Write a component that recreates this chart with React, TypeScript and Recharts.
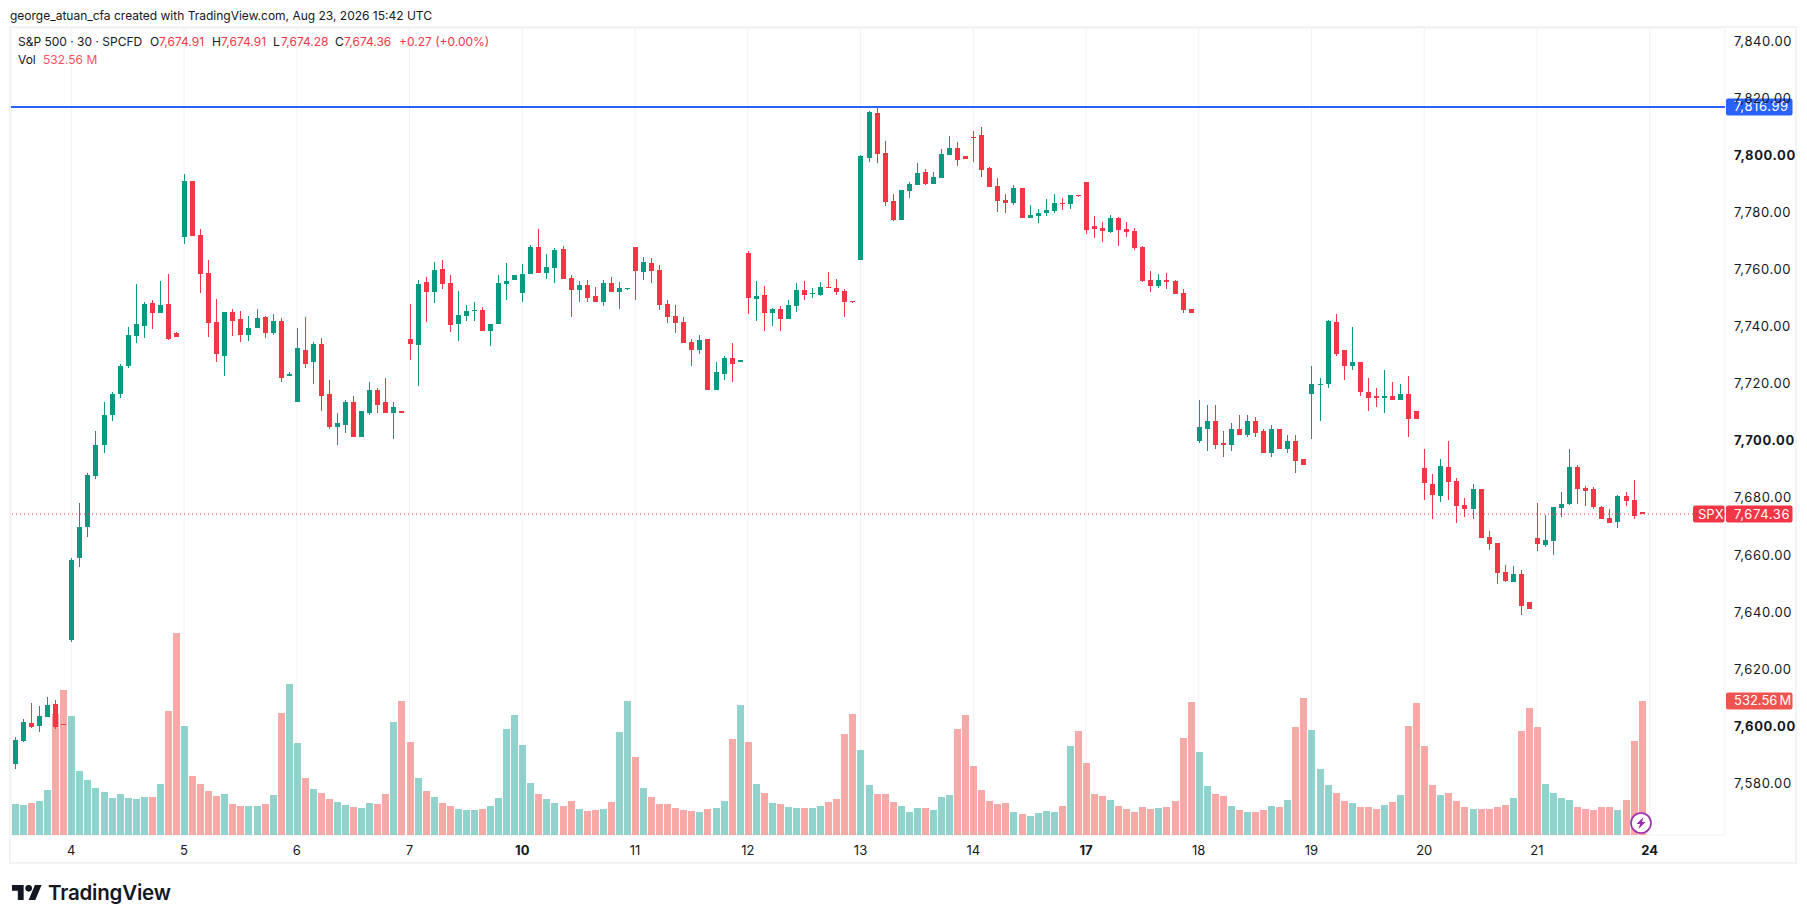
import {
  Bar,
  CartesianGrid,
  ComposedChart,
  ReferenceLine,
  XAxis,
  YAxis,
} from "recharts";

const FONT = "Inter, 'Noto Sans', sans-serif";
const UP = "#089981";
const DOWN = "#F23645";
const VOL_UP = "rgba(38,166,154,0.5)";
const VOL_DOWN = "rgba(239,83,80,0.5)";
const TEXT = "#131722";

const PIVOT = 7816.99;
const LAST = 7674.36;
const LAST_VOL = 532.56;

const dayTicks = [0, 14, 28, 42, 56, 70, 84, 98, 112, 126, 140, 154, 168, 182, 196];
const dayLabels = ["4", "5", "6", "7", "10", "11", "12", "13", "14", "17", "18", "19", "20", "21", "24"];
const boldDays = ["10", "17", "24"];

const priceTicks = [7580, 7600, 7620, 7640, 7660, 7680, 7700, 7720, 7740, 7760, 7780, 7800, 7820, 7840];
const boldPrices = [7600, 7700, 7800];

// bar index of the first row, index 0 is the first 30m bar of the 4th
const FIRST_BAR = -8;
const X_DOMAIN = [-7.49, 205.35];

// open, high, low, close
const ohlc: (number[] | null)[] = [
  null,
  [7586.8, 7596.3, 7585.0, 7595.2],
  [7594.9, 7602.6, 7594.5, 7601.5],
  [7601.2, 7608.2, 7599.4, 7599.8],
  [7600.1, 7607.1, 7598.0, 7603.6],
  [7603.3, 7610.3, 7603.3, 7607.5],
  [7607.8, 7609.2, 7599.1, 7599.8],
  [7600.7, 7600.8, 7600.5, 7600.6],
  // 4
  [7630.3, 7659.1, 7629.4, 7658.4],
  [7659.1, 7678.4, 7655.9, 7669.9],
  [7669.9, 7688.9, 7666.4, 7688.2],
  [7687.8, 7703.3, 7686.8, 7698.7],
  [7698.4, 7713.5, 7695.6, 7709.2],
  [7708.9, 7717.3, 7706.8, 7716.3],
  [7716.3, 7727.1, 7714.9, 7726.4],
  [7726.1, 7739.8, 7725.7, 7737.0],
  [7736.6, 7754.9, 7734.2, 7740.8],
  [7740.1, 7748.5, 7735.9, 7747.8],
  [7748.2, 7749.2, 7739.1, 7744.7],
  [7744.7, 7755.9, 7744.7, 7747.5],
  [7747.8, 7758.4, 7735.2, 7735.6],
  [7737.7, 7738.0, 7736.3, 7736.3],
  // 5
  [7771.3, 7793.5, 7768.9, 7791.0],
  [7791.0, 7791.0, 7771.7, 7771.7],
  [7772.0, 7774.2, 7751.7, 7758.4],
  [7758.7, 7763.3, 7736.3, 7741.2],
  [7741.5, 7749.6, 7727.5, 7730.3],
  [7729.9, 7745.0, 7722.6, 7745.0],
  [7745.0, 7746.1, 7736.6, 7741.9],
  [7742.6, 7745.4, 7734.5, 7737.0],
  [7737.0, 7743.6, 7734.9, 7739.4],
  [7739.4, 7746.1, 7739.4, 7742.9],
  [7743.3, 7743.6, 7735.9, 7737.7],
  [7737.7, 7744.3, 7737.0, 7741.9],
  [7741.9, 7742.9, 7720.5, 7721.9],
  [7722.9, 7724.0, 7722.9, 7723.6],
  // 6
  [7713.8, 7739.4, 7713.8, 7732.4],
  [7732.0, 7743.3, 7725.4, 7727.1],
  [7727.8, 7734.5, 7719.8, 7733.8],
  [7733.8, 7735.9, 7710.3, 7715.6],
  [7716.3, 7721.5, 7704.0, 7704.7],
  [7704.7, 7709.6, 7698.4, 7706.1],
  [7705.7, 7714.2, 7702.9, 7713.5],
  [7713.8, 7715.9, 7701.5, 7701.5],
  [7701.5, 7710.3, 7701.2, 7710.3],
  [7709.9, 7720.8, 7708.9, 7718.0],
  [7718.0, 7718.4, 7709.6, 7712.7],
  [7713.5, 7721.9, 7709.6, 7709.6],
  [7709.9, 7713.5, 7700.8, 7711.7],
  [7710.3, 7710.4, 7709.8, 7709.9],
  // 7
  [7735.6, 7747.8, 7728.5, 7733.8],
  [7733.5, 7756.3, 7719.4, 7754.9],
  [7755.6, 7757.3, 7741.5, 7752.0],
  [7752.0, 7762.6, 7748.2, 7760.0],
  [7760.1, 7763.3, 7753.1, 7754.9],
  [7755.2, 7758.0, 7738.0, 7740.5],
  [7740.8, 7752.4, 7734.9, 7744.0],
  [7743.6, 7747.7, 7741.9, 7745.4],
  [7745.4, 7748.5, 7741.9, 7745.7],
  [7745.7, 7746.8, 7738.4, 7738.4],
  [7738.4, 7740.8, 7733.1, 7740.8],
  [7740.8, 7758.0, 7740.8, 7755.2],
  [7754.9, 7762.2, 7749.2, 7755.9],
  [7756.3, 7758.0, 7756.3, 7758.0],
  // 10
  [7751.7, 7761.9, 7748.5, 7758.4],
  [7758.4, 7768.5, 7758.4, 7767.8],
  [7767.8, 7774.2, 7758.7, 7758.7],
  [7758.7, 7765.4, 7756.6, 7760.8],
  [7760.5, 7767.5, 7755.2, 7766.8],
  [7767.1, 7768.2, 7756.6, 7756.6],
  [7757.0, 7758.0, 7743.3, 7752.7],
  [7752.7, 7755.9, 7748.5, 7754.5],
  [7754.5, 7756.3, 7748.5, 7749.9],
  [7750.6, 7753.8, 7748.5, 7748.5],
  [7748.5, 7756.3, 7747.1, 7755.2],
  [7755.2, 7757.3, 7752.0, 7752.0],
  [7752.0, 7755.6, 7746.1, 7753.5],
  [7753.1, 7753.6, 7753.0, 7753.5],
  // 11
  [7767.8, 7767.8, 7749.2, 7759.4],
  [7759.1, 7764.3, 7756.3, 7762.6],
  [7762.2, 7764.0, 7755.2, 7759.4],
  [7759.8, 7761.5, 7745.7, 7747.5],
  [7747.8, 7749.2, 7741.2, 7743.3],
  [7743.6, 7747.5, 7737.7, 7741.2],
  [7741.5, 7743.3, 7734.2, 7734.2],
  [7734.5, 7735.6, 7726.1, 7732.0],
  [7731.7, 7737.0, 7730.6, 7735.2],
  [7735.6, 7735.6, 7717.7, 7717.7],
  [7717.7, 7727.5, 7717.7, 7724.0],
  [7723.6, 7729.9, 7721.5, 7729.2],
  [7729.2, 7734.2, 7720.8, 7727.1],
  [7727.8, 7728.5, 7727.8, 7728.5],
  // 12
  [7765.7, 7766.4, 7744.4, 7749.9],
  [7749.6, 7755.9, 7741.9, 7750.6],
  [7751.0, 7754.2, 7738.4, 7744.7],
  [7744.7, 7746.4, 7740.1, 7746.1],
  [7746.1, 7747.1, 7738.4, 7742.6],
  [7742.6, 7749.2, 7742.6, 7747.5],
  [7747.1, 7755.2, 7745.0, 7752.7],
  [7752.7, 7755.9, 7749.2, 7751.0],
  [7751.3, 7753.5, 7749.9, 7751.7],
  [7751.0, 7755.6, 7750.6, 7753.8],
  [7753.8, 7759.1, 7753.5, 7753.5],
  [7753.5, 7756.6, 7751.0, 7752.0],
  [7752.4, 7753.1, 7743.3, 7748.5],
  [7748.9, 7749.0, 7748.4, 7748.5],
  // 13
  [7763.3, 7800.1, 7763.3, 7799.8],
  [7799.1, 7815.6, 7797.7, 7815.2],
  [7814.9, 7817.0, 7797.3, 7800.5],
  [7800.8, 7805.0, 7782.2, 7783.6],
  [7784.0, 7786.4, 7777.0, 7777.3],
  [7777.3, 7787.8, 7777.3, 7787.8],
  [7787.5, 7790.6, 7785.0, 7789.9],
  [7789.6, 7797.3, 7789.6, 7793.8],
  [7794.2, 7795.2, 7789.6, 7789.9],
  [7789.9, 7794.2, 7789.9, 7792.4],
  [7792.0, 7802.2, 7792.0, 7800.5],
  [7800.1, 7806.8, 7800.1, 7802.6],
  [7802.6, 7804.7, 7796.3, 7798.4],
  [7799.8, 7799.8, 7798.7, 7798.7],
  // 14
  [7806.4, 7808.5, 7797.7, 7806.1],
  [7807.1, 7809.9, 7792.4, 7794.9],
  [7795.6, 7795.9, 7788.9, 7788.9],
  [7789.2, 7792.0, 7780.1, 7784.0],
  [7784.3, 7786.4, 7779.8, 7783.3],
  [7783.3, 7789.6, 7782.6, 7788.5],
  [7788.5, 7788.5, 7778.0, 7778.0],
  [7778.0, 7782.6, 7778.0, 7779.1],
  [7778.7, 7781.2, 7776.3, 7779.8],
  [7779.8, 7784.7, 7778.7, 7780.8],
  [7780.5, 7786.4, 7779.8, 7783.3],
  [7783.3, 7785.0, 7780.8, 7782.9],
  [7782.9, 7786.1, 7781.2, 7786.1],
  [7786.1, 7786.1, 7785.4, 7785.7],
  // 17
  [7790.6, 7790.6, 7772.4, 7773.8],
  [7775.2, 7778.7, 7771.0, 7774.2],
  [7774.5, 7776.6, 7769.6, 7773.5],
  [7773.1, 7779.1, 7772.7, 7778.0],
  [7778.0, 7778.4, 7768.2, 7773.8],
  [7774.2, 7776.6, 7771.3, 7773.1],
  [7773.5, 7774.5, 7766.8, 7767.5],
  [7767.8, 7768.2, 7755.6, 7755.9],
  [7756.3, 7759.4, 7752.0, 7754.2],
  [7754.2, 7758.4, 7753.5, 7756.3],
  [7756.3, 7758.7, 7753.1, 7755.6],
  [7755.9, 7756.3, 7751.3, 7751.3],
  [7751.7, 7753.1, 7744.7, 7745.7],
  [7746.1, 7746.1, 7744.7, 7744.7],
  // 18
  [7699.8, 7714.2, 7699.1, 7705.0],
  [7704.0, 7712.7, 7696.3, 7707.1],
  [7706.8, 7712.4, 7697.0, 7698.7],
  [7699.4, 7703.6, 7694.2, 7698.7],
  [7698.7, 7706.4, 7696.3, 7704.0],
  [7704.0, 7708.9, 7701.9, 7702.2],
  [7702.2, 7709.2, 7701.5, 7706.8],
  [7706.8, 7708.2, 7701.2, 7702.9],
  [7703.3, 7704.0, 7695.9, 7695.9],
  [7695.9, 7705.7, 7694.5, 7704.0],
  [7704.0, 7704.3, 7697.0, 7697.0],
  [7697.0, 7701.9, 7695.9, 7700.1],
  [7700.1, 7701.9, 7688.9, 7693.1],
  [7693.5, 7693.5, 7691.7, 7691.7],
  // 19
  [7716.6, 7726.4, 7700.5, 7720.1],
  [7719.8, 7721.9, 7706.8, 7720.1],
  [7719.8, 7742.2, 7718.4, 7741.9],
  [7741.5, 7744.3, 7729.6, 7730.3],
  [7731.7, 7731.7, 7721.2, 7726.1],
  [7726.1, 7739.8, 7724.7, 7727.8],
  [7727.5, 7727.5, 7715.6, 7717.0],
  [7717.3, 7721.9, 7710.6, 7715.2],
  [7715.6, 7718.7, 7712.0, 7715.2],
  [7715.2, 7724.7, 7709.9, 7715.6],
  [7715.6, 7720.5, 7714.5, 7714.5],
  [7714.5, 7720.1, 7714.2, 7716.3],
  [7716.3, 7722.9, 7701.5, 7707.8],
  [7710.3, 7710.3, 7707.8, 7707.8],
  // 20
  [7690.6, 7697.3, 7679.4, 7685.4],
  [7685.0, 7688.5, 7672.7, 7681.2],
  [7680.8, 7693.8, 7678.7, 7691.3],
  [7691.0, 7700.0, 7679.4, 7685.7],
  [7686.1, 7687.1, 7671.3, 7677.3],
  [7677.7, 7679.9, 7673.5, 7676.3],
  [7676.3, 7685.0, 7672.7, 7683.3],
  [7683.3, 7683.3, 7666.1, 7666.1],
  [7666.4, 7668.5, 7661.9, 7664.0],
  [7664.3, 7664.3, 7649.9, 7653.8],
  [7654.2, 7656.6, 7650.6, 7651.0],
  [7650.6, 7656.3, 7650.6, 7653.5],
  [7653.5, 7654.9, 7639.1, 7642.2],
  [7643.6, 7643.6, 7641.2, 7641.2],
  // 21
  [7666.1, 7678.4, 7661.5, 7664.0],
  [7663.6, 7674.2, 7662.9, 7665.4],
  [7665.0, 7677.0, 7660.1, 7677.0],
  [7676.6, 7682.2, 7673.5, 7678.0],
  [7678.0, 7697.3, 7677.7, 7691.0],
  [7691.0, 7691.7, 7678.0, 7683.3],
  [7683.6, 7684.3, 7677.3, 7682.6],
  [7683.0, 7684.0, 7676.0, 7677.0],
  [7677.0, 7677.3, 7672.7, 7672.7],
  [7673.1, 7676.3, 7671.3, 7671.3],
  [7671.7, 7681.0, 7669.6, 7680.7],
  [7680.7, 7682.2, 7677.3, 7679.1],
  [7679.4, 7686.4, 7672.7, 7673.8],
  [7674.91, 7674.91, 7674.28, 7674.36],
];

// millions
const volumes = [
  123.2, 123.2, 119.2, 127.2, 135.1, 178.8, 480.9, 576.3,
  473, 254.4, 218.6, 186.8, 170.9, 147.1, 163, 147.1, 143.1, 151, 151, 202.7, 492.8, 802.8,
  433.2, 234.5, 202.7, 174.9, 155, 163, 123.2, 115.3, 115.3, 115.3, 123.2, 159, 484.9, 600.1,
  365.6, 226.5, 182.8, 166.9, 143.1, 131.2, 119.2, 111.3, 107.3, 127.2, 123.2, 163, 449.1, 532.6,
  369.6, 226.5, 174.9, 151, 127.2, 115.3, 103.3, 99.4, 99.4, 103.3, 115.3, 147.1, 421.3, 476.9,
  357.7, 206.7, 163, 143.1, 127.2, 115.3, 135.1, 103.3, 95.4, 99.4, 103.3, 131.2, 409.4, 532.6,
  310, 186.8, 151, 123.2, 123.2, 107.3, 99.4, 95.4, 91.4, 103.3, 107.3, 135.1, 381.5, 516.7,
  369.6, 202.7, 166.9, 127.2, 123.2, 111.3, 107.3, 107.3, 107.3, 115.3, 131.2, 143.1, 401.4, 480.9,
  337.8, 198.7, 163, 163, 131.2, 115.3, 91.4, 107.3, 107.3, 99.4, 151, 159, 421.3, 476.9,
  274.2, 178.8, 135.1, 123.2, 127.2, 91.4, 83.5, 75.5, 87.4, 95.4, 91.4, 115.3, 353.7, 413.3,
  286.2, 163, 155, 139.1, 115.3, 103.3, 91.4, 111.3, 103.3, 107.3, 111.3, 135.1, 385.5, 528.6,
  329.9, 194.7, 163, 155, 115.3, 99.4, 91.4, 91.4, 99.4, 115.3, 111.3, 139.1, 429.2, 544.5,
  417.3, 262.3, 198.7, 166.9, 135.1, 127.2, 111.3, 111.3, 103.3, 119.2, 131.2, 159, 433.2, 524.6,
  353.7, 198.7, 159, 166.9, 135.1, 111.3, 103.3, 103.3, 103.3, 111.3, 119.2, 147.1, 413.3, 504.7,
  429.2, 202.7, 166.9, 147.1, 139.1, 111.3, 103.3, 99.4, 111.3, 111.3, 99.4, 139.1, 373.6, 532.56,
];

const rows = volumes.map((volume, n) => {
  const bar = ohlc[n];
  return {
    index: FIRST_BAR + n,
    volume,
    open: bar ? bar[0] : null,
    high: bar ? bar[1] : null,
    low: bar ? bar[2] : null,
    close: bar ? bar[3] : null,
    up: bar ? bar[3] >= bar[0] : true,
  };
});

function candleRange(d: (typeof rows)[number]) {
  return d.high == null ? null : [d.low, d.high];
}

function Candle(props: any) {
  const { x, y, width, height, payload } = props;
  if (payload.high == null) return null;
  const cx = x + width / 2;
  const perUnit = height / (payload.high - payload.low);
  const py = (v: number) => y + (payload.high - v) * perUnit;
  const top = Math.round(py(Math.max(payload.open, payload.close)));
  const bottom = Math.round(py(Math.min(payload.open, payload.close)));
  const color = payload.up ? UP : DOWN;
  return (
    <g shapeRendering="crispEdges">
      <rect x={Math.round(cx - 0.5)} y={y} width={1} height={height} fill={color} />
      <rect
        x={Math.round(cx - 2.5)}
        y={top}
        width={5}
        height={Math.max(bottom - top, 1)}
        fill={color}
      />
    </g>
  );
}

function VolumeBar(props: any) {
  const { x, y, width, height, payload } = props;
  return (
    <rect
      x={Math.round(x + width / 2 - 3.5)}
      y={y}
      width={7}
      height={height}
      fill={payload.up ? VOL_UP : VOL_DOWN}
      shapeRendering="crispEdges"
    />
  );
}

function PriceTick(props: any) {
  const { x, y, payload } = props;
  const bold = boldPrices.includes(payload.value);
  return (
    <text
      x={x + 1}
      y={y + 4.5}
      fontFamily={FONT}
      fontSize={13}
      letterSpacing={0.6}
      fontWeight={bold ? 700 : 400}
      fill={TEXT}
    >
      {payload.value.toLocaleString("en-US", { minimumFractionDigits: 2 })}
    </text>
  );
}

function DayTick(props: any) {
  const { x, y, payload } = props;
  const label = dayLabels[dayTicks.indexOf(payload.value)];
  return (
    <text
      x={x}
      y={y + 12}
      textAnchor="middle"
      fontFamily={FONT}
      fontSize={13}
      fontWeight={boldDays.includes(label) ? 700 : 400}
      fill={TEXT}
    >
      {label}
    </text>
  );
}

// the coloured value boxes on the price scale
function ValueTag({ viewBox, text, color, symbol, spacing = 0.6 }: any) {
  const right = viewBox.x + viewBox.width;
  const cy = viewBox.y;
  return (
    <g fontFamily={FONT} fontSize={13} fill="#fff">
      {symbol && (
        <>
          <rect x={right - 32} y={cy - 8.5} width={31.5} height={17} rx={2} fill={color} />
          <text x={right - 27} y={cy + 4.5}>
            {symbol}
          </text>
        </>
      )}
      <rect x={right + 1} y={cy - 8.5} width={66.5} height={17} rx={2} fill={color} />
      <text x={right + 9} y={cy + 4.5} letterSpacing={spacing} wordSpacing={-1.5}>
        {text}
      </text>
    </g>
  );
}

function Abs({ left, top, color, children, weight }: any) {
  return (
    <span
      style={{
        position: "absolute",
        left,
        top,
        color: color ?? TEXT,
        fontWeight: weight,
        whiteSpace: "nowrap",
        lineHeight: "16px",
      }}
    >
      {children}
    </span>
  );
}

export default function App() {
  return (
    <div
      style={{
        position: "fixed",
        left: 0,
        top: 0,
        width: 1807,
        height: 923,
        background: "#fff",
        fontFamily: FONT,
        fontSize: 12,
        overflow: "hidden",
      }}
    >
      <div
        style={{
          position: "absolute",
          left: 9,
          top: 26,
          width: 1784,
          height: 834,
          border: "2px solid #f3f3f4",
        }}
      />
      <ComposedChart
        width={1807}
        height={923}
        data={rows}
        margin={{ top: 28, right: 10, left: 11, bottom: 61 }}
        style={{ position: "absolute", left: 0, top: 0 }}
      >
        <CartesianGrid stroke="#f2f2f3" strokeWidth={1} />
        <XAxis
          dataKey="index"
          type="number"
          domain={X_DOMAIN}
          allowDataOverflow
          ticks={dayTicks}
          interval={0}
          height={27}
          axisLine={false}
          tickLine={false}
          tick={<DayTick />}
        />
        {/* own axis for the candles so they don't sit side by side with volume */}
        <XAxis
          xAxisId="candles"
          dataKey="index"
          type="number"
          domain={X_DOMAIN}
          allowDataOverflow
          hide
        />
        <YAxis
          yAxisId="price"
          orientation="right"
          domain={[7561.91, 7844.67]}
          allowDataOverflow
          ticks={priceTicks}
          interval={0}
          width={72}
          axisLine={false}
          tickLine={false}
          tick={<PriceTick />}
        />
        <YAxis yAxisId="volume" hide domain={[0, 3207]} allowDataOverflow />
        <Bar
          yAxisId="volume"
          dataKey="volume"
          barSize={7}
          shape={<VolumeBar />}
          isAnimationActive={false}
        />
        <ReferenceLine
          yAxisId="volume"
          y={LAST_VOL}
          stroke="none"
          label={(p: any) => (
            <ValueTag viewBox={p.viewBox} text="532.56 M" color="#EF5350" spacing={0} />
          )}
        />
        <ReferenceLine
          yAxisId="price"
          y={LAST}
          stroke={DOWN}
          strokeDasharray="1 3"
          label={(p: any) => (
            <ValueTag viewBox={p.viewBox} text="7,674.36" color={DOWN} symbol="SPX" />
          )}
        />
        <Bar
          xAxisId="candles"
          yAxisId="price"
          dataKey={candleRange}
          barSize={7}
          shape={<Candle />}
          isAnimationActive={false}
        />
        <ReferenceLine
          yAxisId="price"
          y={PIVOT}
          stroke="#2962FF"
          strokeWidth={2}
          label={(p: any) => (
            <ValueTag viewBox={p.viewBox} text="7,816.99" color="#2962FF" />
          )}
        />
      </ComposedChart>

      <svg
        width={24}
        height={24}
        viewBox="0 0 24 24"
        style={{ position: "absolute", left: 1629, top: 811 }}
      >
        <circle cx={12} cy={12} r={10} fill="#fff" stroke="#9C27B0" strokeWidth={1.6} />
        <path d="M14.5 6 7.5 13h3.6L9.5 18l7-7h-3.6z" fill="#9C27B0" />
      </svg>

      <Abs left={10} top={8}>
        george_atuan_cfa created with TradingView.com, Aug 23, 2026 15:42 UTC
      </Abs>
      <Abs left={18} top={34}>S&amp;P 500 · 30 · SPCFD</Abs>
      <Abs left={150} top={34}>O</Abs>
      <Abs left={159} top={34} color={DOWN}>7,674.91</Abs>
      <Abs left={212} top={34}>H</Abs>
      <Abs left={221} top={34} color={DOWN}>7,674.91</Abs>
      <Abs left={273} top={34}>L</Abs>
      <Abs left={281} top={34} color={DOWN}>7,674.28</Abs>
      <Abs left={335} top={34}>C</Abs>
      <Abs left={344} top={34} color={DOWN}>7,674.36</Abs>
      <Abs left={399} top={34} color={DOWN}>+0.27 (+0.00%)</Abs>
      <Abs left={18} top={52}>Vol</Abs>
      <Abs left={43} top={52} color="#F7525F">532.56 M</Abs>

      <svg
        width={30}
        height={15}
        viewBox="0 4 36 18"
        style={{ position: "absolute", left: 12, top: 885 }}
      >
        <path d="M14 22H7V11H0V4h14v18zM28 22h-8l7.5-18h8L28 22z" fill="#131722" />
        <circle cx={20} cy={8} r={4} fill="#131722" />
      </svg>
      <span
        style={{
          position: "absolute",
          left: 48,
          top: 880,
          fontSize: 20.5,
          fontWeight: 600,
          lineHeight: "26px",
          color: "#131722",
          letterSpacing: "-0.2px",
        }}
      >
        TradingView
      </span>
    </div>
  );
}
